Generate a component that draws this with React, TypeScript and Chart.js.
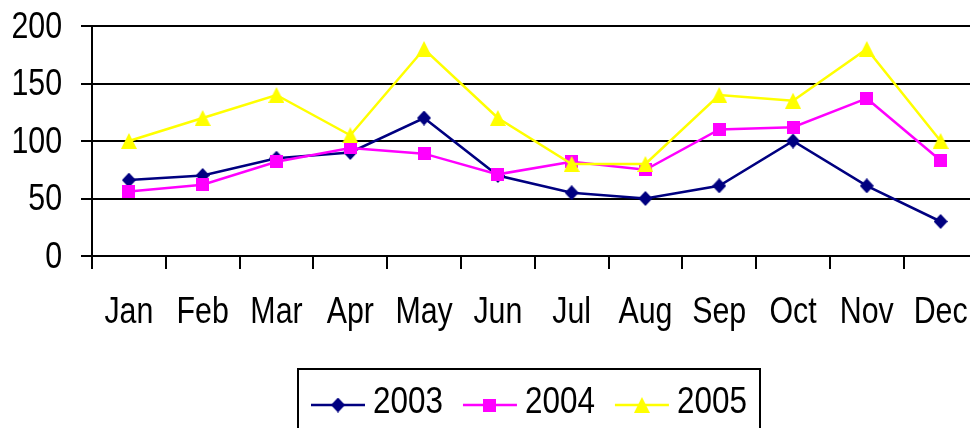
import React, { useEffect, useRef } from "react";
import { Chart, registerables } from "chart.js";

Chart.register(...registerables);

const MONTHS = ["Jan", "Feb", "Mar", "Apr", "May", "Jun", "Jul", "Aug", "Sep", "Oct", "Nov", "Dec"];
const SERIES_2003 = [66, 70, 85, 90, 120, 70, 55, 50, 61, 100, 61, 30];
const SERIES_2004 = [56, 62, 82, 94, 89, 71, 82, 75, 110, 112, 137, 83];
const SERIES_2005 = [100, 120, 140, 105, 180, 120, 80, 80, 140, 135, 180, 100];
const SERIES_LABELS = ["2003", "2004", "2005"];
const SERIES_COLORS = ["#000080", "#FF00FF", "#FFFF00"];
const Y_MIN = 0;
const Y_MAX = 200;
const Y_STEP = 50;

const FONT = "'Liberation Sans', Arial, sans-serif";
const FONT_SIZE = 37;
const SX = 0.82; // narrow (condensed) look of the original text

function makeMarker(shape: string, color: string, w: number, h: number) {
  const c = document.createElement("canvas");
  c.width = w;
  c.height = h;
  const ctx = c.getContext("2d")!;
  ctx.fillStyle = color;
  ctx.beginPath();
  if (shape === "diamond") {
    ctx.moveTo(w / 2, 0);
    ctx.lineTo(w, h / 2);
    ctx.lineTo(w / 2, h);
    ctx.lineTo(0, h / 2);
  } else if (shape === "square") {
    ctx.rect(0, 0, w, h);
  } else {
    ctx.moveTo(w / 2, 0);
    ctx.lineTo(w, h);
    ctx.lineTo(0, h);
  }
  ctx.closePath();
  ctx.fill();
  return c;
}

function drawNarrowText(ctx: CanvasRenderingContext2D, text: string, x: number, y: number, align: CanvasTextAlign, sx = SX) {
  ctx.save();
  ctx.translate(x, y);
  ctx.scale(sx, 1);
  ctx.textAlign = align;
  ctx.textBaseline = "middle";
  ctx.fillStyle = "#000";
  ctx.font = `${FONT_SIZE}px ${FONT}`;
  ctx.fillText(text, 0, 0);
  ctx.restore();
}

const narrowLabels = {
  id: "narrowLabels",
  afterDraw(chart: any) {
    const ctx = chart.ctx as CanvasRenderingContext2D;
    const xs = chart.scales.x;
    const ys = chart.scales.y;
    xs.ticks.forEach((t: any, i: number) => {
      const label = chart.data.labels[t.value];
      drawNarrowText(ctx, String(label), xs.getPixelForTick(i), xs.top + 56.5, "center");
    });
    ys.ticks.forEach((t: any) => {
      drawNarrowText(ctx, String(t.value), ys.right - 30, ys.getPixelForValue(t.value) + 1.5, "right");
    });
  },
};

const LEGEND_SX = 0.85;

const boxLegend = {
  id: "boxLegend",
  afterDraw(chart: any) {
    const ctx = chart.ctx as CanvasRenderingContext2D;
    ctx.save();
    ctx.strokeStyle = "#000";
    ctx.lineWidth = 2;
    ctx.strokeRect(298, 369, 462, 80);
    ctx.font = `${FONT_SIZE}px ${FONT}`;
    let x = 311;
    const y = 404;
    chart.data.datasets.forEach((ds: any) => {
      ctx.strokeStyle = ds.borderColor;
      ctx.lineWidth = 2.5;
      ctx.beginPath();
      ctx.moveTo(x, y + 1);
      ctx.lineTo(x + 54, y + 1);
      ctx.stroke();
      const img = ds.pointStyle as HTMLCanvasElement;
      ctx.drawImage(img, x + 27 - img.width / 2, y + 1 - img.height / 2);
      drawNarrowText(ctx, ds.label, x + 62, y - 1.5, "left", LEGEND_SX);
      x += 62 + ctx.measureText(ds.label).width * LEGEND_SX + 20;
    });
    ctx.restore();
  },
};

export default function App() {
  const ref = useRef<HTMLCanvasElement>(null);
  useEffect(() => {
    const markers = [
      makeMarker("diamond", SERIES_COLORS[0], 14, 15),
      makeMarker("square", SERIES_COLORS[1], 13, 13),
      makeMarker("triangle", SERIES_COLORS[2], 16, 16),
    ];
    const values = [SERIES_2003, SERIES_2004, SERIES_2005];
    const chart = new Chart(ref.current!, {
      type: "line",
      data: {
        labels: MONTHS,
        datasets: values.map((v, i) => ({
          label: SERIES_LABELS[i],
          data: v,
          borderColor: SERIES_COLORS[i],
          backgroundColor: SERIES_COLORS[i],
          borderWidth: 2.5,
          pointStyle: markers[i] as any,
          pointRadius: 7,
          tension: 0,
          order: 2 - i,
        })),
      },
      options: {
        responsive: false,
        animation: false,
        devicePixelRatio: 1,
        layout: { padding: { left: 0, top: 26, right: 2, bottom: 92 } },
        plugins: { legend: { display: false }, tooltip: { enabled: false } },
        scales: {
          x: {
            type: "category",
            offset: true,
            grid: { offset: true, drawOnChartArea: false, drawTicks: true, tickLength: 13, color: "#000", lineWidth: 2 },
            border: { display: true, color: "#000", width: 2 },
            ticks: { color: "rgba(0,0,0,0)", font: { family: FONT, size: FONT_SIZE }, padding: 21, autoSkip: false, maxRotation: 0 },
            afterFit: (s: any) => {
              s.height = 80;
              s.paddingLeft = 0;
              s.paddingRight = 0;
            },
          },
          y: {
            min: Y_MIN,
            max: Y_MAX,
            ticks: { stepSize: Y_STEP, color: "rgba(0,0,0,0)", font: { family: FONT, size: FONT_SIZE }, padding: 19 },
            grid: { color: "#000", lineWidth: 2, tickLength: 11 },
            border: { display: true, color: "#000", width: 2 },
            afterFit: (s: any) => {
              s.width = 92;
              s.paddingTop = 0;
              s.paddingBottom = 0;
            },
          },
        },
      },
      plugins: [narrowLabels, boxLegend],
    });
    return () => chart.destroy();
  }, []);
  return (
    <div style={{ position: "fixed", left: 0, top: 0, width: 970, height: 428, overflow: "hidden", background: "#fff" }}>
      <canvas ref={ref} width={987} height={428} style={{ width: 987, height: 428, display: "block" }} />
    </div>
  );
}
